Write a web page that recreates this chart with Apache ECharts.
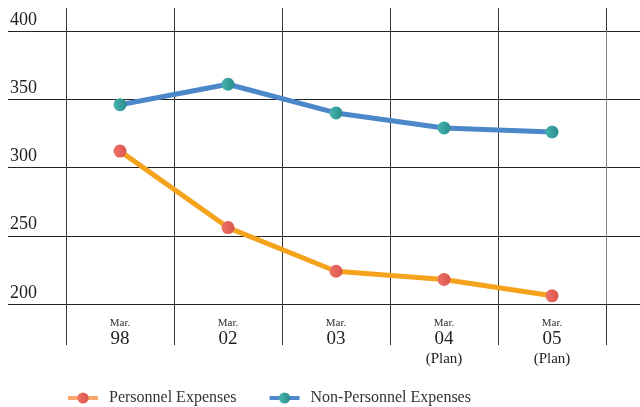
<!DOCTYPE html>
<html>
<head>
<meta charset="utf-8">
<title>Expenses</title>
<script src="https://cdn.jsdelivr.net/npm/echarts@6/dist/echarts.min.js"></script>
<style>
  html, body { margin: 0; padding: 0; background: #ffffff; }
  #chart { width: 640px; height: 407px; }
</style>
</head>
<body>
<div id="chart"></div>
<script>
// Fiscal periods (March year-end) and which of them are plan figures
const periods = ['98', '02', '03', '04', '05'];
const isPlan = [false, false, false, true, true];

// Expenses by period
const personnel = [312, 256, 224, 218, 206];
const nonPersonnel = [346, 361, 340, 329, 326];

// Value axis range
const yMin = 200;
const yMax = 400;
const yStep = 50;

const FONT = '"Liberation Serif", "DejaVu Serif", serif';

function grad(c1, c2) {
  return {
    type: 'linear', x: 0, y: 0, x2: 1, y2: 0,
    colorStops: [{ offset: 0, color: c1 }, { offset: 1, color: c2 }]
  };
}

const chart = echarts.init(document.getElementById('chart'), null, { renderer: 'canvas' });

chart.setOption({
  backgroundColor: '#ffffff',
  animation: false,
  textStyle: { fontFamily: FONT },
  grid: [
    // full-width band for the horizontal rules and value labels
    { left: 8, right: 0, top: 31, bottom: 103, containLabel: false },
    // plotting area between the first and last period dividers
    { left: 66, right: 34, top: 31, bottom: 103, containLabel: false }
  ],
  xAxis: [
    { gridIndex: 0, type: 'value', show: false, min: 0, max: 1 },
    {
      gridIndex: 1,
      type: 'category',
      position: 'bottom',
      data: periods,
      boundaryGap: true,
      axisLine: { show: false },
      axisTick: { show: true, inside: false, length: 41, lineStyle: { color: '#3a3a3a', width: 1 } },
      splitLine: { show: true, lineStyle: { color: ['#3a3a3a', '#3a3a3a', '#3a3a3a', '#3a3a3a', '#3a3a3a', '#808080'], width: 1 } },
      axisLabel: {
        margin: 13,
        interval: 0,
        formatter: function (v, i) {
          let s = '{m|Mar.}\n{y|' + v + '}';
          if (isPlan[i]) s += '\n{p|(Plan)}';
          return s;
        },
        rich: {
          m: { fontFamily: FONT, fontSize: 11, lineHeight: 13, color: '#333' },
          y: { fontFamily: FONT, fontSize: 19, lineHeight: 19, color: '#222' },
          p: { fontFamily: FONT, fontSize: 15, lineHeight: 20, color: '#222' }
        }
      }
    },
    {
      gridIndex: 1,
      type: 'category',
      position: 'top',
      data: periods,
      boundaryGap: true,
      axisLine: { show: false },
      axisTick: { show: true, inside: false, length: 23, lineStyle: { color: '#3a3a3a', width: 1 } },
      axisLabel: { show: false },
      splitLine: { show: false }
    }
  ],
  yAxis: [
    {
      gridIndex: 0,
      type: 'value',
      min: yMin,
      max: yMax,
      interval: yStep,
      axisLine: { show: false },
      axisTick: { show: false },
      splitLine: { show: true, lineStyle: { color: '#222', width: 1 } },
      axisLabel: {
        inside: true,
        margin: 2,
        verticalAlign: 'bottom',
        padding: [0, 0, 2, 0],
        fontFamily: FONT,
        fontSize: 18,
        color: '#222'
      }
    },
    {
      gridIndex: 1,
      type: 'value',
      min: yMin,
      max: yMax,
      interval: yStep,
      show: false,
      splitLine: { show: false }
    }
  ],
  legend: {
    left: 61,
    top: 385,
    itemWidth: 30,
    itemHeight: 14,
    itemGap: 31,
    textStyle: { fontFamily: FONT, fontSize: 16, color: '#333', padding: [0, 0, 0, 6] },
    data: [
      { name: 'Personnel Expenses', lineStyle: { color: '#f9a86b', width: 4 } },
      { name: 'Non-Personnel Expenses', lineStyle: { color: '#5088cc', width: 4 } }
    ]
  },
  series: [
    {
      name: 'Personnel Expenses',
      type: 'line',
      xAxisIndex: 1,
      yAxisIndex: 1,
      data: personnel,
      symbol: 'circle',
      symbolSize: 13,
      lineStyle: { color: '#f5a31c', width: 5 },
      itemStyle: { color: grad('#ee7266', '#d9554e') },
      z: 3
    },
    {
      name: 'Non-Personnel Expenses',
      type: 'line',
      xAxisIndex: 1,
      yAxisIndex: 1,
      data: nonPersonnel,
      symbol: 'circle',
      symbolSize: 13,
      lineStyle: { color: '#4b87c9', width: 5 },
      itemStyle: { color: grad('#46b5ad', '#2a8d8c') },
      z: 3
    }
  ]
});
</script>
</body>
</html>
